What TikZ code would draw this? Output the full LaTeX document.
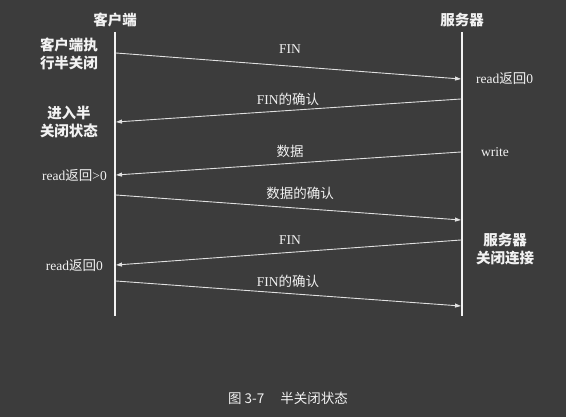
\documentclass[tikz,border=0pt]{standalone}
\usepackage{fontspec}
\setmainfont{Liberation Serif}
\newfontfamily\cjk{Noto Sans CJK SC}
\usetikzlibrary{arrows.meta}
\definecolor{bg}{HTML}{3C3C3C}
\definecolor{fg}{HTML}{F2F2F2}
\definecolor{ln}{HTML}{E0E0E0}
\begin{document}
\begin{tikzpicture}[x=1pt,y=-1pt,
  lifeline/.style={draw=fg,line width=2.2pt},
  msg/.style={draw=ln,line width=0.9pt,-{Triangle[length=6pt,width=4pt]}},
  lbl/.style={text=fg,font=\fontsize{13.5}{15}\selectfont,inner sep=0pt},
  side/.style={text=fg,font=\fontsize{14.5}{18}\selectfont\cjk\bfseries,align=center,inner sep=0pt}]
\fill[bg] (0,0) rectangle (566,417);
\useasboundingbox (0,0) rectangle (566,417);
% headers
\node[side] (hc) at (115,20) {客户端};
\node[side] (hs) at (462,20) {服务器};
% lifelines
\coordinate (ct) at (115,32);
\coordinate (cb) at (115,316);
\coordinate (st) at (462,32);
\coordinate (sb) at (462,316);
\draw[lifeline] (ct) -- (cb);
\draw[lifeline] (st) -- (sb);
% endpoints
\coordinate (c1) at (116,53);  \coordinate (s1) at (461,79);
\coordinate (s2) at (461,99);  \coordinate (c2) at (116,122);
\coordinate (s3) at (461,152); \coordinate (c3) at (116,175);
\coordinate (c4) at (116,195); \coordinate (s4) at (461,220);
\coordinate (s5) at (461,240); \coordinate (c5) at (116,265);
\coordinate (c6) at (116,281); \coordinate (s6) at (461,306);
% messages
\draw[msg] (c1) -- (s1);
\draw[msg] (s2) -- (c2);
\draw[msg] (s3) -- (c3);
\draw[msg] (c4) -- (s4);
\draw[msg] (s5) -- (c5);
\draw[msg] (c6) -- (s6);
% message labels
\node[lbl] (m1) at (290,49) {FIN};
\node[lbl] (m2) at (288,99) {FIN{\cjk 的确认}};
\node[lbl] (m3) at (290,151) {\cjk 数据};
\node[lbl] (m4) at (300,193) {\cjk 数据的确认};
\node[lbl] (m5) at (290,240) {FIN};
\node[lbl] (m6) at (288,281) {FIN{\cjk 的确认}};
% client side notes
\node[side] (n1) at (69,54) {客户端执\\行半关闭};
\node[side] (n2) at (69,122) {进入半\\关闭状态};
\node[lbl,anchor=east] (n3) at (107,175) {read{\cjk 返回}>0};
\node[lbl,anchor=east] (n4) at (103,265) {read{\cjk 返回}0};
% server side notes
\node[lbl,anchor=west] (n5) at (476,78) {read{\cjk 返回}0};
\node[lbl,anchor=west] (n6) at (481,152) {write};
\node[side] (n7) at (505,249) {服务器\\关闭连接};
% caption
\node[lbl,font=\fontsize{13.5}{15}\selectfont\cjk] (cap) at (288,398) {图 3-7\hspace{1.2em}半关闭状态};
\end{tikzpicture}
\end{document}
